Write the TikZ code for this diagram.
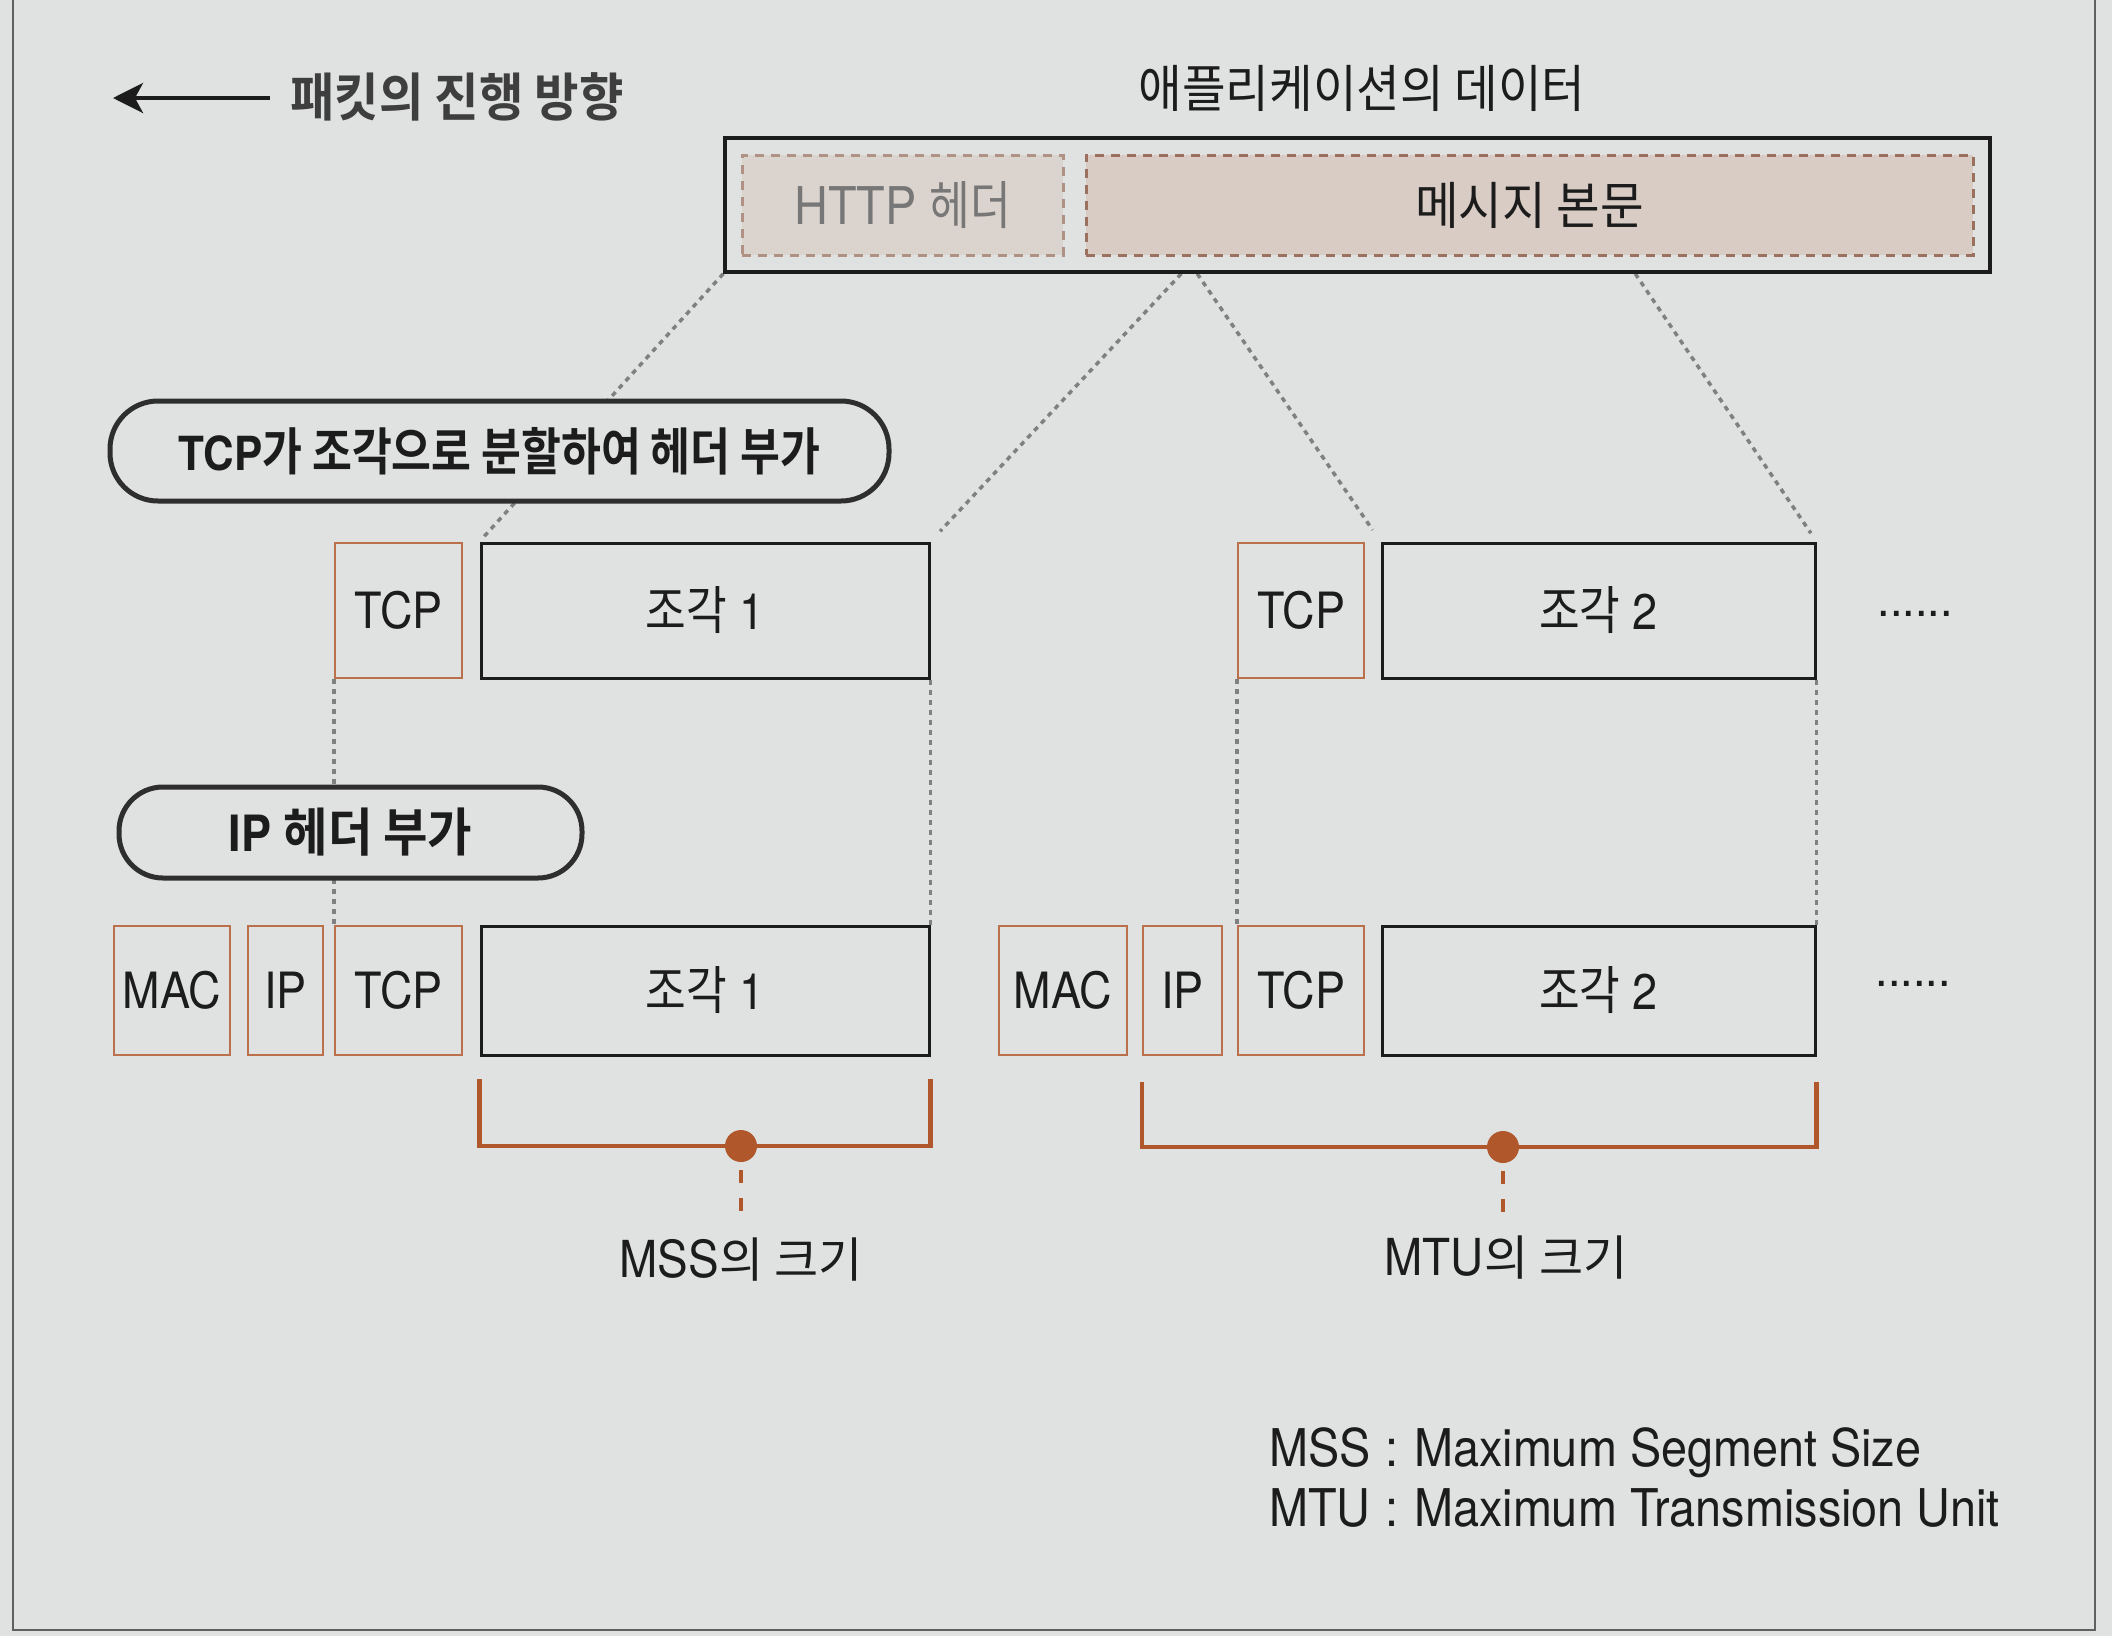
\documentclass[tikz,border=0pt]{standalone}
\usepackage{fontspec}
\setmainfont[FakeStretch=0.9]{TeX Gyre Heros}
\newfontfamily\kr[FakeStretch=0.85,BoldFont={* Bold}]{Noto Sans CJK KR}
\newfontfamily\krw[FakeStretch=0.93,BoldFont={* Bold}]{Noto Sans CJK KR}
\newfontfamily\krn[BoldFont={* Bold}]{Noto Sans CJK KR}
\usetikzlibrary{arrows.meta,calc}
\definecolor{bgc}{RGB}{224,226,225}
\definecolor{rust}{RGB}{176,88,44}
\definecolor{hdr}{RGB}{186,112,74}
\definecolor{pinkfill}{RGB}{217,204,196}
\definecolor{pinkdash}{RGB}{156,112,94}
\definecolor{dotgray}{RGB}{128,128,128}
\definecolor{ink}{RGB}{28,28,28}
\pgfdeclarelayer{back}
\pgfsetlayers{back,main}
\begin{document}
\begin{tikzpicture}[x=1pt,y=-1pt,
  hbox/.style={draw=hdr, line width=2.5pt, fill=bgc, inner sep=0pt, font=\fontsize{50}{60}\selectfont, text=ink},
  fbox/.style={draw=ink, line width=3pt, fill=bgc, inner sep=0pt, font=\fontsize{50}{60}\selectfont, text=ink},
  inbox/.style={draw=pinkdash, line width=3pt, dash pattern=on 9pt off 7pt, fill=pinkfill, inner sep=0pt, text=ink},
  pill/.style={draw=ink!92, line width=5pt, fill=bgc, inner sep=0pt, text=ink},
  conn/.style={draw=dotgray, line width=3.5pt, dash pattern=on 5pt off 5pt},
  bracket/.style={draw=rust, line width=4.5pt, line join=miter},
  lbl/.style={inner sep=0pt, text=ink},
  legend/.style={inner sep=0pt, text=ink, font=\fontsize{52}{60}\selectfont}
]
\useasboundingbox (0,0) rectangle (2112,1636);

% title and arrow
\node[lbl, anchor=west, font=\fontsize{52}{60}\selectfont\krw\bfseries, text=ink!85] (title) at (290,97) {패킷의 진행 방향};
\coordinate (arrowtip) at (113,98);
\draw[line width=4pt, ink, -{Stealth[length=30pt,width=30pt,inset=8pt]}] ($(title.west)+(-20,1)$) -- (arrowtip);

% application data
\node[lbl, font=\fontsize{51}{60}\selectfont\krw] (applbl) at (1362,88) {애플리케이션의 데이터};
\node[draw=ink, line width=3.5pt, fill=bgc, minimum width=1265pt, minimum height=134pt, inner sep=0pt] (app) at (1357.5,205) {};
\node[inbox, fill=pinkfill!70!bgc, draw=pinkdash!70!bgc, text=ink!60, minimum width=321pt, minimum height=100pt, font=\fontsize{52}{60}\selectfont] (http) at (902.5,205) {HTTP {\kr 헤더}};
\node[inbox, minimum width=887pt, minimum height=100pt, font=\fontsize{51}{60}\selectfont\krw] (body) at (1529.5,205) {메시지 본문};

% pills
\node[pill, rounded corners=48pt, minimum width=779pt, minimum height=100pt, font=\fontsize{47}{56}\selectfont\bfseries] (pill1) at (499.5,451) {TCP{\fontsize{51}{56}\selectfont\kr 가 조각으로 분할하여 헤더 부가}};
\node[pill, rounded corners=44pt, minimum width=463pt, minimum height=91pt, font=\fontsize{50}{56}\selectfont\bfseries] (pill2) at (350.5,832.5) {IP {\fontsize{52}{56}\selectfont\krw 헤더 부가}};

% upper row
\node[hbox, minimum width=127pt, minimum height=135pt] (tcp1) at (398.5,610.5) {TCP};
\node[fbox, minimum width=448pt, minimum height=135pt] (frag1) at (705,610.5) {{\fontsize{52}{60}\selectfont\kr 조각} 1};
\node[hbox, minimum width=126pt, minimum height=135pt] (tcp2) at (1301,610.5) {TCP};
\node[fbox, minimum width=433pt, minimum height=135pt] (frag2) at (1598.5,610.5) {{\fontsize{52}{60}\selectfont\kr 조각} 2};
\node[lbl, font=\fontsize{50}{60}\selectfont] (more1) at (1915,614) {......};

% lower row
\node[hbox, minimum width=116pt, minimum height=129pt] (mac1) at (172,990.5) {MAC};
\node[hbox, minimum width=75pt, minimum height=129pt] (ip1) at (285.5,990.5) {IP};
\node[hbox, minimum width=127pt, minimum height=129pt] (tcp1b) at (398.5,990.5) {TCP};
\node[fbox, minimum width=448pt, minimum height=129pt] (frag1b) at (705,990.5) {{\fontsize{52}{60}\selectfont\kr 조각} 1};
\node[hbox, minimum width=128pt, minimum height=129pt] (mac2) at (1063,990.5) {MAC};
\node[hbox, minimum width=79pt, minimum height=129pt] (ip2) at (1182.5,990.5) {IP};
\node[hbox, minimum width=126pt, minimum height=129pt] (tcp2b) at (1301,990.5) {TCP};
\node[fbox, minimum width=433pt, minimum height=129pt] (frag2b) at (1598.5,990.5) {{\fontsize{52}{60}\selectfont\kr 조각} 2};
\node[lbl, font=\fontsize{50}{60}\selectfont] (more2) at (1913,984) {......};

% brackets
\node[circle, fill=rust, minimum size=32pt, inner sep=0pt] (mssdot) at (741,1146) {};
\draw[bracket] (frag1b.west |- 0,1079) -- (frag1b.west |- mssdot) -- (frag1b.east |- mssdot) -- (frag1b.east |- 0,1079);
\node[lbl, font=\fontsize{51}{60}\selectfont] (msslbl) at (741,1260) {MSS{\fontsize{48}{60}\selectfont\krn 의 크기}};
\draw[rust, line width=4pt, dash pattern=on 13pt off 15pt] ($(mssdot)+(0,24)$) -- ($(mssdot)+(0,66)$);

\node[circle, fill=rust, minimum size=32pt, inner sep=0pt] (mtudot) at (1503,1147) {};
\draw[bracket] (ip2.west |- 0,1082) -- (ip2.west |- mtudot) -- (frag2b.east |- mtudot) -- (frag2b.east |- 0,1082);
\node[lbl, font=\fontsize{51}{60}\selectfont] (mtulbl) at (1506,1258) {MTU{\fontsize{48}{60}\selectfont\krn 의 크기}};
\draw[rust, line width=4pt, dash pattern=on 13pt off 15pt] ($(mtudot)+(0,24)$) -- ($(mtudot)+(0,66)$);

% legend
\node[legend, anchor=base west] (l1a) at (1269,1466) {MSS};
\node[legend, anchor=base] (l1b) at (1392,1466) {:};
\node[legend, anchor=base west] (l1c) at (1414,1466) {Maximum Segment Size};
\node[legend, anchor=base west] (l2a) at (1269,1526) {MTU};
\node[legend, anchor=base] (l2b) at (1392,1526) {:};
\node[legend, anchor=base west] (l2c) at (1414,1526) {Maximum Transmission Unit};

% cut points
\coordinate (cutA) at ($(app.south west)+(458,0)$);
\coordinate (cutB) at ($(app.south west)+(474,0)$);
\coordinate (cutC) at ($(app.south west)+(912,0)$);

\begin{pgfonlayer}{back}
\fill[bgc] (0,0) rectangle (2112,1636);
\draw[ink!70, line width=2pt] (13,-5) rectangle (2095,1630);
\draw[conn, shorten >=4pt] (app.south west) -- (frag1.north west);
\draw[conn, shorten >=14pt] (cutA) -- (frag1.north east);
\draw[conn, shorten >=14pt] (cutB) -- (frag2.north west);
\draw[conn, shorten >=10pt] (cutC) -- (frag2.north east);
\draw[conn] (tcp1.south west) -- (tcp1b.north west);
\draw[conn] (frag1.south east) -- (frag1b.north east);
\draw[conn] (tcp2.south west) -- (tcp2b.north west);
\draw[conn] (frag2.south east) -- (frag2b.north east);
\end{pgfonlayer}
\end{tikzpicture}
\end{document}
